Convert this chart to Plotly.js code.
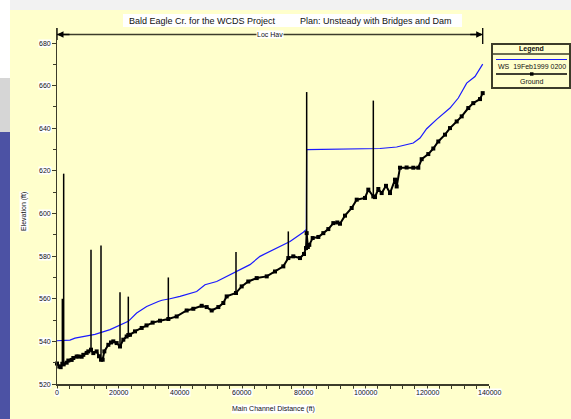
<!DOCTYPE html>
<html>
<head>
<meta charset="utf-8">
<script src="https://cdn.plot.ly/plotly-3.0.1.min.js"></script>
<style>
  html, body { margin: 0; padding: 0; background: #ffffcc; }
  #chart { width: 571px; height: 419px; }
</style>
</head>
<body>
<div id="chart"></div>
<script>
// ---------- data ----------
const groundStations = [0, 750, 1190, 1730, 2160, 3130, 3670, 4750, 5290, 6370, 6910, 7990, 8530, 9610, 10150, 11020, 11770, 12850, 13600, 14260, 14800, 15340, 16640, 17500, 18250, 19330, 20420, 21490, 22570, 23110, 23650, 25280, 27440, 29000, 31000, 33380, 36080, 38780, 42020, 44180, 46890, 48510, 50130, 52290, 53900, 54990, 58010, 59850, 61990, 64720, 67960, 70650, 73340, 74960, 76580, 78750, 80040, 80690, 80910, 81300, 81760, 82860, 84690, 86310, 87930, 89550, 90840, 91710, 93330, 95500, 97130, 99810, 100890, 102510, 103050, 104130, 105220, 106620, 107920, 109540, 110080, 111150, 113300, 115470, 117090, 118180, 120330, 121950, 123570, 125740, 127360, 129530, 131150, 133290, 134910, 137080, 137960];
const groundElev = [529.6, 528.2, 527.9, 529.5, 529.2, 530.0, 531.0, 531.3, 532.2, 532.9, 532.9, 532.8, 533.7, 534.6, 535.3, 536.1, 534.5, 535.3, 533.0, 531.4, 531.4, 535.3, 538.4, 539.5, 540.0, 539.2, 537.6, 540.8, 542.3, 543.0, 543.1, 544.7, 546.3, 547.5, 548.8, 549.7, 550.5, 551.7, 554.5, 555.3, 556.7, 556.1, 554.5, 556.1, 558.0, 561.1, 562.7, 565.8, 568.1, 569.7, 570.5, 572.8, 575.2, 579.1, 579.9, 579.1, 581.0, 583.8, 590.8, 584.3, 585.3, 588.5, 589.0, 590.8, 592.7, 595.5, 595.8, 595.2, 599.0, 602.6, 606.5, 607.3, 611.2, 608.0, 607.7, 611.5, 609.6, 613.0, 609.6, 615.9, 612.7, 621.5, 621.6, 621.5, 621.5, 625.5, 627.9, 630.5, 633.8, 637.0, 640.1, 643.2, 645.6, 649.5, 651.8, 653.7, 656.5];

const wsStations = [0, 4200, 5830, 10700, 12310, 17200, 18800, 20400, 23110, 25820, 29060, 32830, 34000, 36620, 39860, 45270, 47960, 51750, 58230, 62540, 65780, 71190, 75510, 79820, 80800, 80900, 93880, 104670, 110080, 115470, 117640, 119800, 123050, 127360, 130050, 132770, 135460, 137960];
const wsElev = [540.3, 540.6, 541.5, 543.0, 543.3, 545.5, 546.5, 547.8, 549.4, 553.3, 556.4, 558.7, 559.3, 560.0, 561.1, 563.4, 566.6, 568.1, 572.8, 576.0, 579.9, 583.8, 586.9, 591.2, 592.5, 630.0, 630.2, 630.5, 631.2, 633.1, 635.4, 639.8, 644.2, 649.5, 654.2, 661.2, 664.3, 670.1];

const bridgeStations = [1730, 2160, 11020, 14260, 20420, 23110, 36080, 58010, 74960, 80910, 102510];
const bridgeLow = [529.5, 529.2, 536.1, 531.4, 537.6, 543.0, 550.5, 562.7, 579.1, 590.8, 608.0];
const bridgeHigh = [560, 618.7, 583, 585, 563, 561, 570, 582, 591.6, 657, 653];

const xTicks = [0, 20000, 40000, 60000, 80000, 100000, 120000, 140000];
const yTicks = [520, 540, 560, 580, 600, 620, 640, 660, 680];

const titleLeft = "Bald Eagle Cr. for the WCDS Project";
const titleRight = "Plan: Unsteady with Bridges and Dam";
const reachLabel = "Loc Hav";
const legendTitle = "Legend";
const wsName = "WS  19Feb1999 0200";
const groundName = "Ground";
const xTitle = "Main Channel Distance (ft)";
const yTitle = "Elevation (ft)";

// ---------- geometry helpers ----------
const W = 571, H = 419;
const M = { l: 57, r: 82, t: 28, b: 35 };
const PW = W - M.l - M.r, PH = H - M.t - M.b;
const px = p => (p - M.l) / PW;          // pixel -> paper x
const py = p => (H - M.b - p) / PH;      // pixel -> paper y
const font = "Liberation Sans, Arial, sans-serif";
const txt = "#111111";
const frame = "#3c3c2a";

// bridge spikes built from arrays
const spikeX = [], spikeY = [];
bridgeStations.forEach((s, i) => {
  spikeX.push(s, s, null);
  spikeY.push(bridgeLow[i], bridgeHigh[i], null);
});

const traces = [
  { x: wsStations, y: wsElev, mode: 'lines', line: { color: '#1a1aff', width: 1.2 },
    hoverinfo: 'skip', showlegend: false, cliponaxis: false },
  { x: spikeX, y: spikeY, mode: 'lines', line: { color: '#000', width: 1.5 },
    hoverinfo: 'skip', showlegend: false, connectgaps: false },
  { x: groundStations, y: groundElev, mode: 'lines+markers',
    line: { color: '#000', width: 2 },
    marker: { symbol: 'square', size: 4, color: '#000' },
    hoverinfo: 'skip', showlegend: false, cliponaxis: false }
];

const annotations = [];
const shapes = [];
const note = (o) => annotations.push(Object.assign({
  showarrow: false, xanchor: 'center', yanchor: 'middle',
  font: { family: font, size: 7, color: txt }
}, o));

// tick labels with white backgrounds
xTicks.forEach(v => note({
  x: v, xref: 'x', y: 0, yref: 'paper', yanchor: 'top', yshift: -4,
  text: String(v), bgcolor: '#ffffff', borderpad: 0
}));
yTicks.forEach(v => note({
  x: 0, xref: 'paper', xanchor: 'right', xshift: -5, y: v, yref: 'y',
  text: String(v), bgcolor: '#ffffff', borderpad: 0
}));

// axis titles
note({ x: px(273), xref: 'paper', y: py(409), yref: 'paper', text: xTitle,
  bgcolor: '#ffffff', borderpad: 0 });
note({ x: px(24), xref: 'paper', y: py(212), yref: 'paper', text: yTitle, textangle: -90,
  bgcolor: '#ffffff', borderpad: 0 });

// title box
shapes.push({ type: 'rect', xref: 'paper', yref: 'paper', x0: px(123), x1: px(462), y0: py(27), y1: py(14),
  fillcolor: '#ffffff', line: { width: 0 }, layer: 'above' });
note({ x: px(127), xref: 'paper', xanchor: 'left', y: py(20.5), yref: 'paper',
  text: titleLeft, font: { family: font, size: 9, color: txt } });
note({ x: px(298), xref: 'paper', xanchor: 'left', y: py(20.5), yref: 'paper',
  text: titleRight, font: { family: font, size: 9, color: txt } });

// reach extent (Loc Hav) line
const xStart = groundStations[0], xEnd = groundStations[groundStations.length - 1];
const yLoc = py(34.5);
shapes.push({ type: 'line', xref: 'x', yref: 'paper', x0: xStart, x1: xEnd, y0: yLoc, y1: yLoc,
  line: { color: frame, width: 1.3 } });
shapes.push({ type: 'line', xref: 'x', yref: 'paper', x0: xEnd, x1: xEnd, y0: py(28), y1: py(44),
  line: { color: '#000', width: 1.3 } });
shapes.push({ type: 'line', xref: 'x', yref: 'paper', x0: xStart, x1: xStart, y0: py(28), y1: py(40),
  line: { color: '#000', width: 1.3 } });
annotations.push({ x: xStart, xref: 'x', y: yLoc, yref: 'paper', ax: 14, ay: 0, text: '',
  showarrow: true, arrowhead: 2, arrowsize: 1, arrowwidth: 1.3, arrowcolor: '#000' });
annotations.push({ x: xEnd, xref: 'x', y: yLoc, yref: 'paper', ax: -14, ay: 0, text: '',
  showarrow: true, arrowhead: 2, arrowsize: 1, arrowwidth: 1.3, arrowcolor: '#000' });
note({ x: (xStart + xEnd) / 2, xref: 'x', y: yLoc, yref: 'paper', text: reachLabel,
  bgcolor: '#ffffff', borderpad: 0 });

// legend box
shapes.push({ type: 'rect', xref: 'paper', yref: 'paper', x0: px(492), x1: px(570), y0: py(88), y1: py(44),
  fillcolor: '#ffffcc', line: { color: frame, width: 2 } });
shapes.push({ type: 'line', xref: 'paper', yref: 'paper', x0: px(492), x1: px(570), y0: py(54), y1: py(54),
  line: { color: frame, width: 1.5 } });
note({ x: px(531), xref: 'paper', y: py(49), yref: 'paper', text: '<b>' + legendTitle + '</b>' });
shapes.push({ type: 'line', xref: 'paper', yref: 'paper', x0: px(496), x1: px(567), y0: py(59.5), y1: py(59.5),
  line: { color: '#1a1aff', width: 1.2 } });
note({ x: px(496), xref: 'paper', xanchor: 'left', y: py(66.5), yref: 'paper', text: wsName });
shapes.push({ type: 'line', xref: 'paper', yref: 'paper', x0: px(496), x1: px(567), y0: py(74), y1: py(74),
  line: { color: '#000', width: 1.3 } });
shapes.push({ type: 'rect', xref: 'paper', yref: 'paper', x0: px(530), x1: px(533.5), y0: py(75.7), y1: py(72.3),
  fillcolor: '#000', line: { width: 0 } });
note({ x: px(531), xref: 'paper', y: py(81), yref: 'paper', text: groundName });

// screenshot surroundings (window chrome)
shapes.push({ type: 'rect', xref: 'paper', yref: 'paper', x0: px(0), x1: px(571), y0: py(10), y1: py(0),
  fillcolor: '#f2f2f2', line: { width: 0 } });
shapes.push({ type: 'rect', xref: 'paper', yref: 'paper', x0: px(0), x1: px(10), y0: py(419), y1: py(0),
  fillcolor: '#ffffff', line: { width: 0 } });
shapes.push({ type: 'rect', xref: 'paper', yref: 'paper', x0: px(0), x1: px(10), y0: py(132), y1: py(78),
  fillcolor: '#d6d6d6', line: { width: 0 } });
shapes.push({ type: 'rect', xref: 'paper', yref: 'paper', x0: px(0), x1: px(10), y0: py(419), y1: py(132),
  fillcolor: '#4c52a4', line: { width: 0 } });

const layout = {
  width: W, height: H,
  margin: M,
  paper_bgcolor: '#ffffcc',
  plot_bgcolor: '#ffffcc',
  showlegend: false,
  xaxis: {
    range: [0, 140000], showgrid: false, zeroline: false,
    showline: true, linecolor: frame, linewidth: 1.5,
    ticks: 'outside', ticklen: 4, tickwidth: 1, tickcolor: frame,
    tickvals: xTicks, showticklabels: false,
    minor: { dtick: 4000, ticks: 'outside', ticklen: 3, tickcolor: frame, showgrid: false }
  },
  yaxis: {
    range: [520, 520 + PH / 2.131], showgrid: false, zeroline: false,
    showline: true, linecolor: frame, linewidth: 1.5,
    ticks: 'outside', ticklen: 4, tickwidth: 1, tickcolor: frame,
    tickvals: yTicks, showticklabels: false,
    minor: { dtick: 10, ticks: 'outside', ticklen: 3, tickcolor: frame, showgrid: false }
  },
  annotations: annotations,
  shapes: shapes
};

Plotly.newPlot('chart', traces, layout, { displayModeBar: false, staticPlot: true });
</script>
</body>
</html>
